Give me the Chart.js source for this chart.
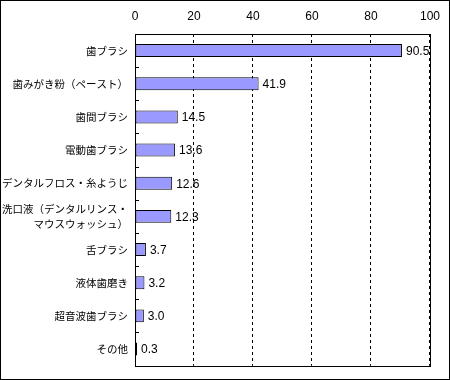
<!DOCTYPE html>
<html><head><meta charset="utf-8">
<script src="https://cdn.jsdelivr.net/npm/chart.js@4/dist/chart.umd.min.js"></script>
<style>html,body{margin:0;padding:0;background:#fff}canvas{display:block}</style>
</head><body>
<canvas id="c" width="450" height="380"></canvas>
<script>
const categories = [
  '歯ブラシ',
  '歯みがき粉（ペースト）',
  '歯間ブラシ',
  '電動歯ブラシ',
  'デンタルフロス・糸ようじ',
  ['洗口液（デンタルリンス・', 'マウスウォッシュ）'],
  '舌ブラシ',
  '液体歯磨き',
  '超音波歯ブラシ',
  'その他'
];
const values = [90.5, 41.9, 14.5, 13.6, 12.6, 12.3, 3.7, 3.2, 3.0, 0.3];
const xTicks = [0, 20, 40, 60, 80, 100];

const frame = {
  id: 'frame',
  afterDraw(chart) {
    const ctx = chart.ctx, a = chart.chartArea;
    ctx.save();
    ctx.strokeStyle = '#000';
    ctx.lineWidth = 1;
    ctx.setLineDash([]);
    ctx.strokeRect(Math.round(a.left) + 0.5, Math.round(a.top) + 0.5, Math.round(a.right - a.left), Math.round(a.bottom - a.top));
    ctx.strokeRect(0.5, 0.5, chart.width - 1, chart.height - 1);
    const ys = chart.scales.y;
    for (let i = 1; i < categories.length; i++) {
      const y = Math.round((ys.getPixelForValue(i - 1) + ys.getPixelForValue(i)) / 2) + 0.5;
      ctx.beginPath();
      ctx.moveTo(a.left, y);
      ctx.lineTo(a.left + 4, y);
      ctx.stroke();
    }
    ctx.fillStyle = '#000';
    ctx.font = '12px "Liberation Sans", Arial, sans-serif';
    ctx.textBaseline = 'middle';
    ctx.textAlign = 'left';
    chart.getDatasetMeta(0).data.forEach((bar, i) => {
      ctx.fillText(values[i].toFixed(1), bar.x + 4, bar.y + 1);
    });
    ctx.restore();
  }
};

new Chart(document.getElementById('c'), {
  type: 'bar',
  data: {
    labels: categories,
    datasets: [{
      data: values,
      backgroundColor: '#9999FF',
      borderColor: '#000',
      borderWidth: 1,
      borderSkipped: false,
      minBarLength: 2,
      categoryPercentage: 1,
      barPercentage: 0.39
    }]
  },
  options: {
    indexAxis: 'y',
    responsive: false,
    animation: false,
    layout: { padding: { left: 0, right: 20, top: 0, bottom: 6 } },
    plugins: { legend: { display: false }, tooltip: { enabled: false } },
    scales: {
      x: {
        position: 'top',
        min: 0, max: 100,
        afterBuildTicks(s) { s.ticks = xTicks.map(v => ({ value: v })); },
        afterFit(s) { s.height = 34; },
        border: { display: false, dash: [3, 3] },
        grid: {
          color: '#000',
          lineWidth: 1,
          drawTicks: false
        },
        ticks: {
          color: '#000',
          padding: 10,
          font: { family: '"Liberation Sans", Arial, sans-serif', size: 12 }
        }
      },
      y: {
        afterFit(s) { s.width = 135; },
        border: { display: false },
        grid: { display: false, drawTicks: false },
        ticks: {
          color: '#000',
          padding: 7,
          font: { family: '"Noto Sans CJK JP", sans-serif', size: 10.5, lineHeight: 1.4 }
        }
      }
    }
  },
  plugins: [frame]
});
</script>
</body></html>
